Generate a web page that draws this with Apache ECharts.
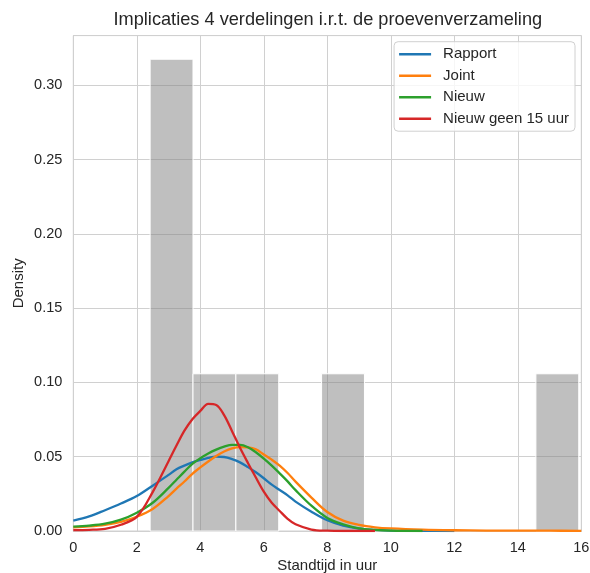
<!DOCTYPE html>
<html>
<head>
<meta charset="utf-8">
<script src="https://cdn.jsdelivr.net/npm/echarts@6/dist/echarts.min.js"></script>
<style>
html,body{margin:0;padding:0;background:#fff;}
#chart{width:590px;height:573px;}
</style>
</head>
<body>
<div id="chart"></div>
<script>
// ---- Data ----
const seriesNames = ['Rapport', 'Joint', 'Nieuw', 'Nieuw geen 15 uur'];
const xTicks = [0, 2, 4, 6, 8, 10, 12, 14, 16];
const yTicks = [0, 0.05, 0.10, 0.15, 0.20, 0.25, 0.30];

// Histogram (density) of the test set
const binEdges = [2.42, 3.77, 5.12, 6.47, 7.82, 9.17, 10.52, 11.87, 13.22, 14.57, 15.92];
const binDensity = [0.3175, 0.1058, 0.1058, 0, 0.1058, 0, 0, 0, 0, 0.1058];

// KDE curves sampled at shared x positions
const kdeX = [0, 0.5, 1, 1.5, 2, 2.5, 3, 3.25, 3.5, 3.75, 4, 4.25, 4.5, 4.75, 5, 5.25, 5.5, 5.75,
              6, 6.25, 6.5, 6.75, 7, 7.5, 8, 8.5, 9, 9.5, 10, 11, 12, 13, 14, 15, 16];
const rapportY = [0.0070, 0.0098, 0.0140, 0.0185, 0.0235, 0.0305, 0.0378, 0.0415, 0.0440, 0.0462,
                  0.0478, 0.0492, 0.0500, 0.0498, 0.0484, 0.0462, 0.0430, 0.0395,
                  0.0355, 0.0312, 0.0276, 0.0240, 0.0198, 0.0130, 0.0072, 0.0036, 0.0016, 0.0007,
                  0.0003, 0.0001, 0.0000, null, null, null, null];
const jointY   = [0.0025, 0.0031, 0.0042, 0.0062, 0.0096, 0.0148, 0.0235, 0.0285, 0.0333, 0.0385,
                  0.0428, 0.0468, 0.0505, 0.0535, 0.0556, 0.0565, 0.0563, 0.0550,
                  0.0515, 0.0480, 0.0440, 0.0390, 0.0332, 0.0225, 0.0128, 0.0070, 0.0041, 0.0025,
                  0.0017, 0.0009, 0.0005, 0.0003, 0.0002, 0.0002, 0.0001];
const nieuwY   = [0.0029, 0.0036, 0.0049, 0.0076, 0.0123, 0.0190, 0.0290, 0.0345, 0.0400, 0.0452,
                  0.0490, 0.0522, 0.0548, 0.0568, 0.0580, 0.0580, 0.0564, 0.0530,
                  0.0487, 0.0440, 0.0388, 0.0334, 0.0275, 0.0170, 0.0088, 0.0045, 0.0018, 0.0008,
                  0.0003, 0.0000, null, null, null, null, null];
const nieuw15Y = [0.0006, 0.0008, 0.0015, 0.0042, 0.0095, 0.0262, 0.0470, 0.0575, 0.0675, 0.0752,
                  0.0808, 0.0855, 0.0848, 0.0780, 0.0672, 0.0560, 0.0458, 0.0360,
                  0.0265, 0.0190, 0.0135, 0.0082, 0.0045, 0.0010, 0.0002, 0.0000, 0.0000, 0.0000,
                  null, null, null, null, null, null, null];

const colors = ['#1f77b4', '#ff7f0e', '#2ca02c', '#d62728'];
const curves = [rapportY, jointY, nieuwY, nieuw15Y];

// ---- Build ----
const histData = [];
for (let i = 0; i < binDensity.length; i++) {
  if (binDensity[i] > 0) histData.push([binEdges[i], binEdges[i + 1], binDensity[i]]);
}
function pairs(ys) {
  const out = [];
  for (let i = 0; i < kdeX.length; i++) if (ys[i] !== null) out.push([kdeX[i], ys[i]]);
  return out;
}

const FONT = '"Liberation Sans", Arial, "DejaVu Sans", sans-serif';
const TXT = '#262626';
const GRID = '#d0d0d0';
const yMax = 0.3334;

const chart = echarts.init(document.getElementById('chart'), null, {renderer: 'canvas'});
const option = {
  animation: false,
  backgroundColor: '#ffffff',
  textStyle: {fontFamily: FONT},
  title: {
    text: 'Implicaties 4 verdelingen i.r.t. de proevenverzameling',
    left: 113.5,
    top: 11,
    padding: 0,
    textAlign: 'left',
    textStyle: {fontFamily: FONT, fontSize: 18.2, fontWeight: 'normal', color: TXT}
  },
  grid: {
    left: 73.3, right: 8.7, top: 35.6, bottom: 42,
    containLabel: false,
    outerBoundsMode: 'none',
    show: true, borderColor: GRID, borderWidth: 1, backgroundColor: 'transparent'
  },
  legend: {
    orient: 'vertical',
    right: 15, top: 41.7,
    padding: [5, 6, 5, 5],
    itemGap: 6.5,
    itemWidth: 32, itemHeight: 14,
    icon: 'path://M0,0 L32,0 L32,2.4 L0,2.4 Z',
    symbolKeepAspect: true,
    borderColor: '#d0d0d0', borderWidth: 1, borderRadius: 4,
    backgroundColor: 'rgba(255,255,255,0.8)',
    textStyle: {fontFamily: FONT, fontSize: 15, color: TXT, padding: [0, 0, 0, 7]},
    data: seriesNames
  },
  xAxis: {
    type: 'value', min: xTicks[0], max: xTicks[xTicks.length - 1], interval: 2,
    name: 'Standtijd in uur', nameLocation: 'middle', nameGap: 27, nameMoveOverlap: false,
    nameTextStyle: {fontFamily: FONT, fontSize: 15, color: TXT},
    axisLine: {show: true, lineStyle: {color: GRID, width: 1}},
    axisTick: {show: false},
    axisLabel: {fontFamily: FONT, fontSize: 14.5, color: TXT, margin: 9,
      formatter: v => xTicks.includes(v) ? String(v) : ''},
    splitLine: {show: true, lineStyle: {color: GRID, width: 1}}
  },
  yAxis: {
    type: 'value', min: 0, max: yMax, interval: 0.05,
    name: 'Density', nameLocation: 'middle', nameGap: 47, nameRotate: 90, nameMoveOverlap: false,
    nameTextStyle: {fontFamily: FONT, fontSize: 15, color: TXT},
    axisLine: {show: true, lineStyle: {color: GRID, width: 1}},
    axisTick: {show: false},
    axisLabel: {fontFamily: FONT, fontSize: 14.5, color: TXT, margin: 11,
      formatter: v => yTicks.some(t => Math.abs(t - v) < 1e-9) ? v.toFixed(2) : ''},
    splitLine: {show: true, lineStyle: {color: GRID, width: 1}}
  },
  series: [
    {
      type: 'custom',
      name: 'hist',
      z: 1,
      data: histData,
      encode: {x: [0, 1], y: 2},
      renderItem: function (params, api) {
        const p0 = api.coord([api.value(0), api.value(2)]);
        const p1 = api.coord([api.value(1), 0]);
        return {
          type: 'rect',
          shape: {x: p0[0], y: p0[1], width: p1[0] - p0[0], height: p1[1] - p0[1]},
          style: {fill: 'rgba(128,128,128,0.5)', stroke: '#ffffff', lineWidth: 1}
        };
      }
    }
  ].concat(seriesNames.map((n, i) => ({
    type: 'line',
    name: n,
    z: 3 + i,
    data: pairs(curves[i]),
    showSymbol: false,
    symbol: 'none',
    smooth: 0.35,
    color: colors[i],
    lineStyle: {color: colors[i], width: 2.3}
  })))
};
chart.setOption(option);
</script>
</body>
</html>
